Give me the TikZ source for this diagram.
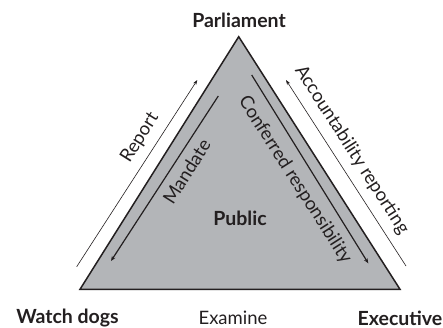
\documentclass[tikz,border=0pt]{standalone}
\usepackage{fontspec}
\setmainfont{Lato}
\usetikzlibrary{arrows.meta}
\definecolor{trifill}{HTML}{B3B5B8}
\definecolor{ink}{HTML}{231F20}
\begin{document}
\begin{tikzpicture}[x=1pt,y=-1pt,
  lbl/.style={font=\fontsize{18.5}{20}\selectfont, text=ink, inner sep=0pt},
  blbl/.style={font=\fontsize{19.5}{21}\selectfont\bfseries, text=ink, inner sep=0pt},
  thinarrow/.style={draw=ink, line width=0.6pt, -{Stealth[length=5pt,width=3.5pt]}},
  thickarrow/.style={draw=ink, line width=1.2pt, -{Stealth[length=5pt,width=4pt]}}]
\useasboundingbox (0,0) rectangle (443,327);
\coordinate (A) at (238.7,36.7);
\coordinate (B) at (80,289.3);
\coordinate (C) at (400,289.3);
\draw[fill=trifill, draw=ink, line width=1.5pt, line join=miter] (A) -- (B) -- (C) -- cycle;
\node[blbl] (parl) at (239,20.5) {Parliament};
\node[blbl] (watch) at (67.5,318) {Watch dogs};
\node[lbl] (exam) at (233,318) {Examine};
\node[blbl] (exec) at (400,318) {Executive};
\node[blbl] (pub) at (240,218.3) {Public};
\coordinate (r1) at (76.7,266.7);
\coordinate (r2) at (197.3,80);
\draw[thinarrow] (r1) -- (r2);
\coordinate (m1) at (218.3,96);
\coordinate (m2) at (111,261);
\draw[thickarrow] (m1) -- (m2);
\coordinate (c1) at (251.7,75);
\coordinate (c2) at (368.3,263.3);
\draw[thickarrow] (c1) -- (c2);
\coordinate (a1) at (406,266);
\coordinate (a2) at (286,80);
\draw[thinarrow] (a1) -- (a2);
\node[lbl, rotate=57.9] (rep) at (140,138) {Report};
\node[lbl, rotate=57.9] (man) at (186.7,171.7) {Mandate};
\node[lbl, rotate=-57.4] (conf) at (295,180) {Conferred responsibility};
\node[lbl, rotate=-57.4] (acc) at (351.7,150) {Accountability reporting};
\end{tikzpicture}
\end{document}
